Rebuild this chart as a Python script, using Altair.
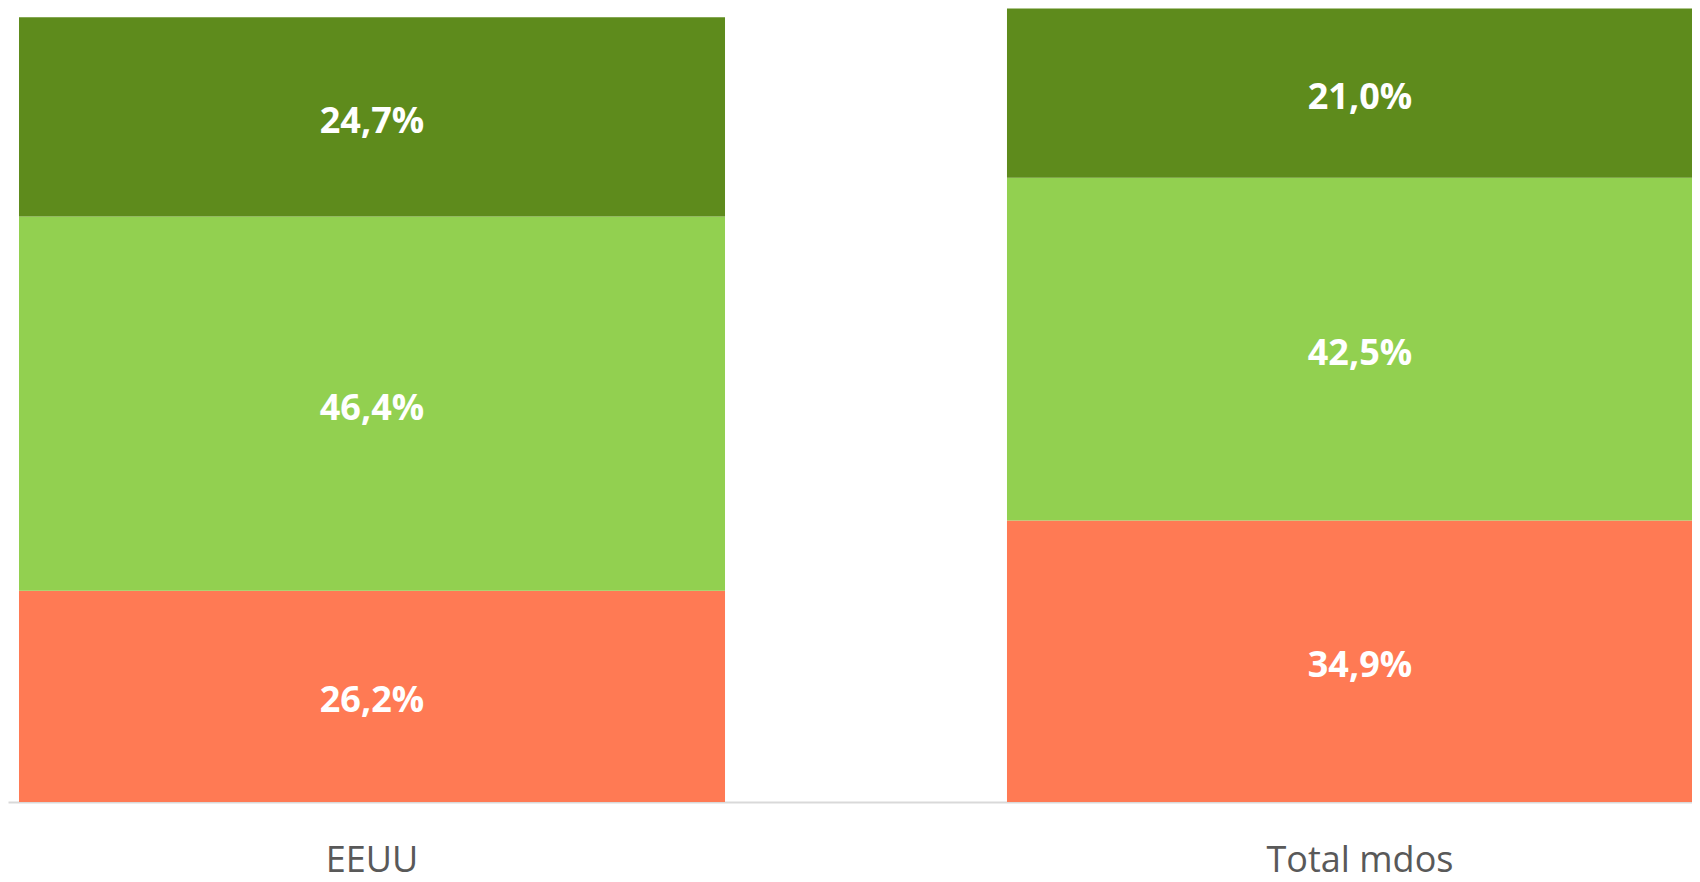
import altair as alt
import pandas as pd

categories = ["EEUU", "Total mdos"]
series = ["Serie 1", "Serie 2", "Serie 3"]  # bottom -> top
serie1 = [26.2, 34.9]
serie2 = [46.4, 42.5]
serie3 = [24.7, 21.0]
colors = ["#FF7A54", "#92D050", "#5E8B1C"]

rows = []
for s_i, (name, vals) in enumerate(zip(series, [serie1, serie2, serie3])):
    for c, v in zip(categories, vals):
        rows.append({"cat": c, "serie": name, "orden": s_i, "valor": v})
df = pd.DataFrame(rows)

base = alt.Chart(df).transform_stack(
    stack="valor", groupby=["cat"], as_=["y0", "y1"], sort=[alt.SortField("orden")]
).transform_calculate(
    mid="(datum.y0 + datum.y1) / 2",
    etiqueta="replace(format(datum.valor, '.1f'), '.', ',') + '%'",
)

xenc = alt.X(
    "cat:N",
    sort=categories,
    title=None,
    scale=alt.Scale(range=[0, 1716], paddingInner=0.2854, paddingOuter=0.01113),
    axis=alt.Axis(
        labelFont="Open Sans",
        labelFontSize=36,
        labelColor="#595959",
        labelPadding=41,
        labelAngle=0,
        labelLimit=0,
        ticks=False,
        grid=False,
        domainColor="#D9D9D9",
        domainWidth=2,
    ),
)
yscale = alt.Scale(domain=[0, 98.45], nice=False, zero=True)

bars = base.mark_bar().encode(
    x=xenc,
    y=alt.Y("y0:Q", scale=yscale, axis=None),
    y2="y1:Q",
    color=alt.Color("serie:N", scale=alt.Scale(domain=series, range=colors), legend=None),
)

text = base.mark_text(
    font="Open Sans", fontSize=36, fontWeight="bold", color="white", baseline="middle", dy=5
).encode(
    x=xenc,
    y=alt.Y("mid:Q", scale=yscale, axis=None),
    text="etiqueta:N",
)

chart = (bars + text).properties(
    width=1684,
    height=794,
    autosize=alt.AutoSizeParams(type="none"),
    padding={"left": 0, "top": 0, "right": 0, "bottom": 80},
).configure_view(stroke=None)

chart.save("out.html", embed_options={"renderer": "svg", "actions": False})
